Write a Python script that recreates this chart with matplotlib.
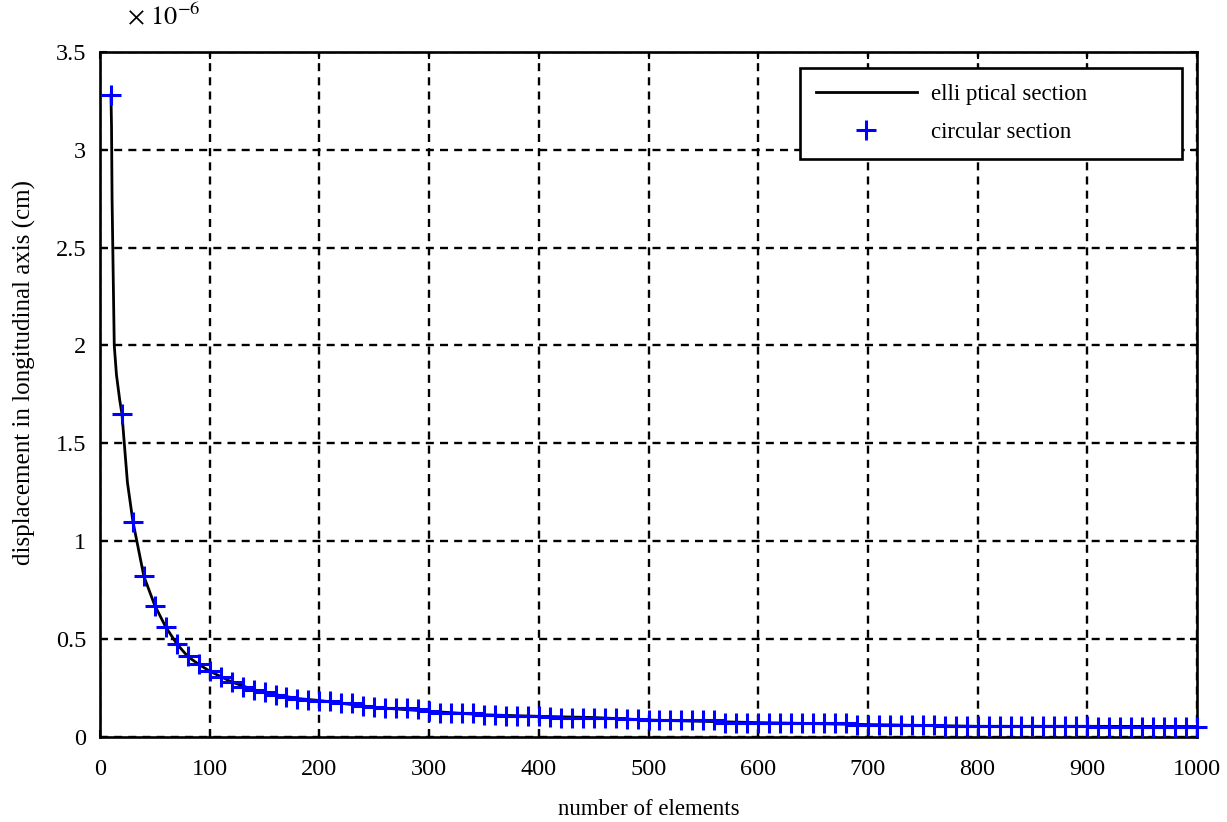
import matplotlib
matplotlib.use("Agg")
import matplotlib.pyplot as plt

# ---- data (displacement values in units of 1e-6 cm) ----
circ_n = list(range(10, 1001, 10))
circ_disp = [
    3.28, 1.65, 1.10, 0.82, 0.67, 0.56, 0.475, 0.41, 0.37, 0.335,
    0.305, 0.28, 0.255, 0.24, 0.23, 0.215, 0.205, 0.195, 0.19, 0.185,
    0.18, 0.172, 0.17, 0.155, 0.15, 0.148, 0.145, 0.145, 0.14, 0.13,
    0.122, 0.12, 0.12, 0.12, 0.112, 0.11, 0.104, 0.104, 0.104, 0.104,
    0.10, 0.098, 0.098, 0.098, 0.098, 0.098, 0.098, 0.09, 0.088, 0.085,
    0.085, 0.085, 0.085, 0.085, 0.085, 0.085, 0.072, 0.072, 0.072, 0.072,
    0.072, 0.072, 0.072, 0.072, 0.072, 0.072, 0.072, 0.072, 0.062, 0.062,
    0.062, 0.062, 0.058, 0.058, 0.058, 0.058, 0.055, 0.055, 0.055, 0.055,
    0.053, 0.053, 0.053, 0.053, 0.053, 0.053, 0.053, 0.053, 0.053, 0.053,
    0.052, 0.052, 0.052, 0.052, 0.052, 0.052, 0.052, 0.052, 0.052, 0.052,
]

ell_n = [10, 10.5, 11, 12, 13, 15, 18, 20, 25, 30, 40, 50, 60, 70, 80, 90, 100,
         120, 140, 160, 180, 200, 250, 300, 350, 400, 450, 500, 600, 700, 800, 900, 1000]
ell_disp = [3.28, 3.12, 2.75, 2.37, 2.0, 1.85, 1.72, 1.65, 1.3, 1.10, 0.82, 0.67, 0.56,
            0.475, 0.41, 0.37, 0.335, 0.28, 0.24, 0.215, 0.195, 0.185, 0.15, 0.13,
            0.112, 0.104, 0.098, 0.085, 0.072, 0.062, 0.053, 0.053, 0.052]

x_ticks = [0, 100, 200, 300, 400, 500, 600, 700, 800, 900, 1000]
y_ticks = [0, 0.5, 1, 1.5, 2, 2.5, 3, 3.5]
y_tick_labels = ["0", "0.5", "1", "1.5", "2", "2.5", "3", "3.5"]

plt.rcParams["font.family"] = ["Liberation Serif", "DejaVu Serif"]
plt.rcParams["mathtext.fontset"] = "stix"

W, H = 1227, 822
fig = plt.figure(figsize=(W / 100, H / 100), dpi=100)
L, R, B, T = 100, 1197, 736.7, 52
ax = fig.add_axes([L / W, 1 - B / H, (R - L) / W, (B - T) / H])

ax.plot(ell_n, ell_disp, color="black", lw=2.0, label="elli ptical section", zorder=3)
ax.plot(circ_n, circ_disp, linestyle="none", marker="+", color=(0, 0, 1),
        markersize=14.5, markeredgewidth=2.2, label="circular section",
        clip_on=False, zorder=4)

ax.set_xlim(0, 1000)
ax.set_ylim(0, 3.5)
ax.set_xticks(x_ticks)
ax.set_yticks(y_ticks)
ax.set_yticklabels(y_tick_labels)

ax.grid(True, color="black", linestyle=(0, (3.4, 2.6)), linewidth=1.7)
for s in ax.spines.values():
    s.set_linewidth(1.9)
    s.set_color("black")
ax.tick_params(direction="in", length=5, width=1.5, top=True, right=True,
               labelsize=17.5, colors="black")
ax.tick_params(axis="x", pad=16)
ax.tick_params(axis="y", pad=10)

ax.set_xlabel("number of elements", fontsize=16.5, labelpad=14)
ax.set_ylabel("displacement in longitudinal axis (cm)", fontsize=18)
ax.yaxis.set_label_coords(-0.058, (B - 372) / (B - T))

fig.text(127 / W, 1 - 16 / H, r"$\times\ 10^{-6}$", fontsize=19, va="center", ha="left")

x0 = (800 - L) / (R - L)
x1 = (1182 - L) / (R - L)
y1 = (B - 68) / (B - T)
y0 = (B - 156) / (B - T)
leg = ax.legend(loc="upper left", bbox_to_anchor=(x0, y0, x1 - x0, y1 - y0),
                mode="expand", borderaxespad=0, fontsize=16.5, fancybox=False,
                framealpha=1, edgecolor="black", handlelength=4.4,
                labelspacing=0.72, borderpad=0.7, handletextpad=0.6)
leg.get_frame().set_linewidth(1.9)

fig.savefig("out.png", dpi=100)
